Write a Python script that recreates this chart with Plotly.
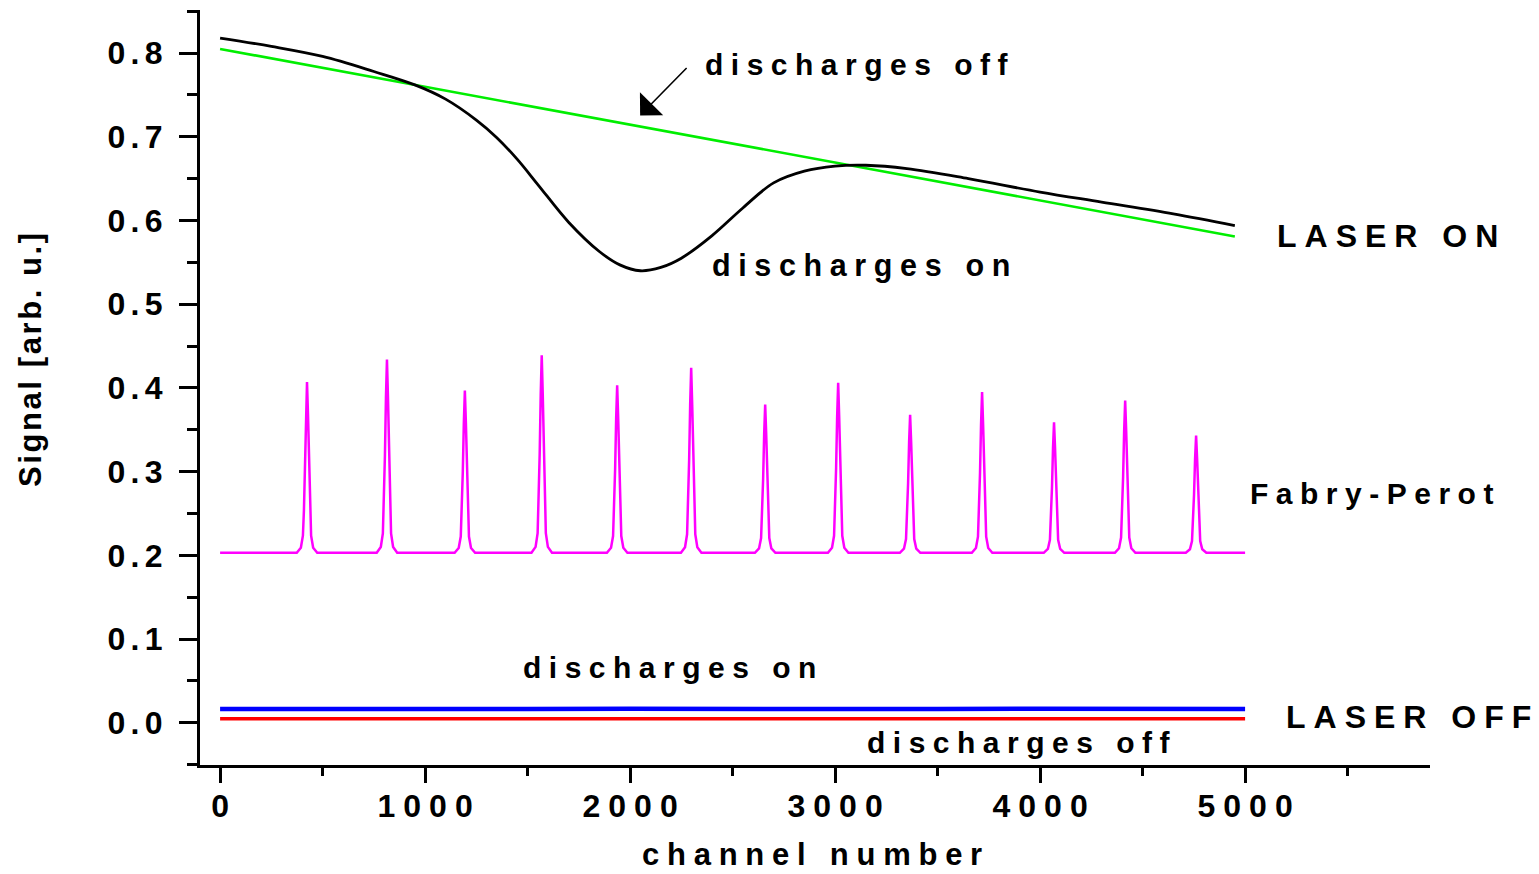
import plotly.graph_objects as go

# ---------------- data ----------------
# Laser on, discharges on (black)
on_x = [0, 250, 500, 750, 950, 1100, 1250, 1350, 1450, 1550, 1700, 1850, 1950, 2050,
        2150, 2250, 2400, 2550, 2700, 2850, 3000, 3150, 3350, 3650, 4000, 4300, 4650, 4950]
on_y = [0.818, 0.808, 0.796, 0.778, 0.762, 0.745, 0.720, 0.699, 0.673, 0.643, 0.598, 0.563,
        0.547, 0.540, 0.544, 0.555, 0.582, 0.615, 0.645, 0.659, 0.665, 0.666, 0.662, 0.650,
        0.634, 0.622, 0.608, 0.594]

# Laser on, discharges off (green)
off_x = [0, 4950]
off_y = [0.805, 0.581]

# Fabry-Perot peaks (magenta)
fp_start, fp_end = 0, 5000
fp_base = 0.203
fp_centers = [424, 814, 1194, 1569, 1937, 2298, 2659, 3015, 3366, 3717, 4068, 4415, 4761]
fp_heights = [0.407, 0.434, 0.397, 0.439, 0.403, 0.424, 0.380, 0.406, 0.368, 0.395, 0.359, 0.385, 0.343]
fp_offsets = [-50, -30, -20, -15, -10, -5, 0, 5, 10, 15, 20, 30, 50]
fp_profile = [0, 0.03, 0.10, 0.25, 0.50, 0.80, 1.0, 0.80, 0.50, 0.25, 0.10, 0.03, 0]

# Laser off (blue: discharges on, red: discharges off)
dark_x = [0, 500, 1000, 1500, 2000, 2500, 3000, 3500, 4000, 4500, 5000]
dark_on_y = [0.0165, 0.0160, 0.0168, 0.0163, 0.0166, 0.0162, 0.0169, 0.0164, 0.0167, 0.0163, 0.0165]
dark_off_y = [0.0048, 0.0047, 0.0049, 0.0048, 0.0047, 0.0049, 0.0048, 0.0049, 0.0047, 0.0048, 0.0048]

x_ticks = [0, 1000, 2000, 3000, 4000, 5000]
y_ticks = [0.0, 0.1, 0.2, 0.3, 0.4, 0.5, 0.6, 0.7, 0.8]

FONT = "Liberation Sans, Arial, sans-serif"


def spaced(s, sp="\u2005"):
    return sp.join(list(s))


# build Fabry-Perot trace from peak table
fp_x = [fp_start]
fp_y = [fp_base]
for c, h in zip(fp_centers, fp_heights):
    for o, w in zip(fp_offsets, fp_profile):
        fp_x.append(c + o)
        fp_y.append(fp_base + w * (h - fp_base))
fp_x.append(fp_end)
fp_y.append(fp_base)

fig = go.Figure()
fig.add_trace(go.Scatter(x=dark_x, y=dark_off_y, mode="lines",
                         line=dict(color="#ff0000", width=3.5), showlegend=False))
fig.add_trace(go.Scatter(x=dark_x, y=dark_on_y, mode="lines",
                         line=dict(color="#0000ff", width=4.5), showlegend=False))
fig.add_trace(go.Scatter(x=fp_x, y=fp_y, mode="lines",
                         line=dict(color="#ff00ff", width=2.5), showlegend=False))
fig.add_trace(go.Scatter(x=off_x, y=off_y, mode="lines",
                         line=dict(color="#00ee00", width=2.6), showlegend=False))
fig.add_trace(go.Scatter(x=on_x, y=on_y, mode="lines", line_shape="spline",
                         line=dict(color="#000000", width=2.8), showlegend=False))

annots = [
    ("discharges off", 2357, 0.7865, "\u2005", 30),
    ("discharges on", 2391, 0.5465, "\u2005", 30.5),
    ("LASER ON", 5147, 0.581, "\u2005", 32),
    ("Fabry-Perot", 5015, 0.274, "\u2005", 30),
    ("discharges on", 1469, 0.0654, "\u2005", 30),
    ("LASER OFF", 5191, 0.0068, "\u2005", 32),
    ("discharges off", 3147, -0.024, "\u2005", 30),
]
for txt, ax_, ay_, sp, size in annots:
    fig.add_annotation(x=ax_, y=ay_, xref="x", yref="y", text="<b>" + spaced(txt, sp) + "</b>",
                       showarrow=False, xanchor="left", yanchor="middle",
                       font=dict(family=FONT, size=size, color="black"))

# arrow pointing at the green line
fig.add_annotation(x=2049, y=0.7256, ax=2283, ay=0.784, xref="x", yref="y",
                   axref="x", ayref="y", text="", showarrow=True,
                   arrowhead=1, arrowsize=3.4, arrowwidth=1.6, arrowcolor="black")

# axis titles
fig.add_annotation(x=(812 - 200) / 1230, y=(765 - 854) / 755, xref="paper", yref="paper",
                   text="<b>" + spaced("channel number", "\u2005") + "</b>", showarrow=False,
                   xanchor="center", yanchor="middle", borderpad=0,
                   font=dict(family=FONT, size=31, color="black"))
fig.add_annotation(x=(30 - 200) / 1230, y=(765 - 360) / 755, xref="paper", yref="paper",
                   text="<b>" + spaced("Signal [arb. u.]", "\u200a") + "</b>", showarrow=False,
                   textangle=-90, xanchor="center", yanchor="middle",
                   font=dict(family=FONT, size=31, color="black"))

fig.update_layout(
    width=1539, height=874,
    margin=dict(l=200, r=109, t=10, b=109),
    paper_bgcolor="white", plot_bgcolor="white",
    font=dict(family=FONT, color="black"),
)
fig.update_xaxes(
    range=[-98, 5902], showgrid=False, zeroline=False,
    showline=True, linewidth=3, linecolor="black",
    ticks="outside", ticklen=15, tickwidth=3, tickcolor="black",
    tickvals=x_ticks, ticktext=["<b>" + spaced(str(v), "\u2005") + "</b>" for v in x_ticks],
    tickfont=dict(family=FONT, size=32, color="black"),
    ticklabelstandoff=-4,
    minor=dict(ticks="outside", ticklen=8, tickwidth=3, tickcolor="black", dtick=500, tick0=0, showgrid=False),
)
fig.update_yaxes(
    range=[-0.0505, 0.8515], showgrid=False, zeroline=False,
    showline=True, linewidth=3, linecolor="black",
    ticks="outside", ticklen=18, tickwidth=3, tickcolor="black",
    tickvals=y_ticks, ticktext=["<b>" + spaced(f"{v:.1f}", "\u2006") + "</b>" for v in y_ticks],
    tickfont=dict(family=FONT, size=32, color="black"),
    ticklabelstandoff=10,
    minor=dict(ticks="outside", ticklen=10, tickwidth=3, tickcolor="black", dtick=0.05, tick0=0, showgrid=False),
)

fig.write_html("out.html")
